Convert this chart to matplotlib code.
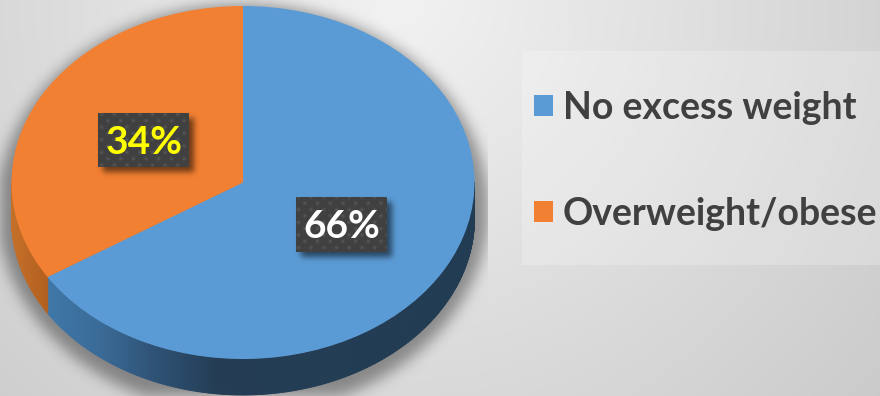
import numpy as np
import matplotlib
matplotlib.use("Agg")
import matplotlib.pyplot as plt
from matplotlib.collections import PolyCollection
from matplotlib.patches import Rectangle
from matplotlib.colors import to_rgb

categories = ["No excess weight", "Overweight/obese"]
shares = [66, 34]
slice_colors = ["#5b9bd5", "#f28032"]
label_colors = ["#ffffff", "#ffff00"]

W, H = 880, 396
CX, CY, RX, RY, DEPTH = 243.0, 182.5, 231.5, 176.5, 36.0
FONT = ["Lato", "DejaVu Sans"]
INK = "#404040"

yy, xx = np.mgrid[0:H, 0:W] + 0.5


def blur(mask, sigma):
    """Gaussian blur through the FFT, padded so nothing wraps round."""
    pad = int(4 * sigma)
    m = np.pad(mask, pad, mode="constant")
    fy = np.fft.fftfreq(m.shape[0])[:, None]
    fx = np.fft.rfftfreq(m.shape[1])[None, :]
    g = np.exp(-2 * (np.pi * sigma) ** 2 * (fx ** 2 + fy ** 2))
    out = np.fft.irfft2(np.fft.rfft2(m) * g, s=m.shape)
    return out[pad:-pad, pad:-pad]


def ramp(x, stops, colors):
    rgb = np.array([to_rgb(c) for c in colors])
    return [np.interp(x, stops, rgb[:, i]) for i in range(3)]


def layer(ax, rgba):
    ax.imshow(rgba, extent=(0, W, H, 0), interpolation="bilinear", aspect="auto", zorder=1)


fig = plt.figure(figsize=(W / 100, H / 100), dpi=100)

# Backdrop, drop shadow, legend panel and the extruded rim of the pie
back = fig.add_axes([0, 0, 1, 1])
grey = np.clip(242 - 0.063 * np.hypot(xx - 400, yy), 0, 255) / 255
back.imshow(np.dstack([grey] * 3), extent=(0, W, H, 0), aspect="auto", zorder=0, vmin=0, vmax=1)

shadow_mask = (((xx - CX) / (RX + 14)) ** 2 + ((yy - CY - DEPTH / 2 - 8) / (RY + DEPTH / 2 + 10)) ** 2 <= 1).astype(float)
shadow_alpha = blur(shadow_mask, 7) * 0.38
shadow_alpha[:, 488:] = 0
layer(back, np.dstack([np.zeros_like(xx)] * 3 + [shadow_alpha]))

back.add_patch(Rectangle((522, 51), W - 522, 214, fc="white", alpha=0.22, ec="none", zorder=2))

# Rim strips follow the slice boundaries given by the shares
boundary = 90 - 360 * shares[0] / sum(shares)
thetas = np.linspace(0, -180, 361)
polys, colors = [], []
for a, b in zip(thetas[:-1], thetas[1:]):
    ra, rb = np.radians([a, b])
    xa, xb = CX + RX * np.cos(ra), CX + RX * np.cos(rb)
    ya, yb = CY - RY * np.sin(ra), CY - RY * np.sin(rb)
    polys.append([(xa, ya), (xb, yb), (xb, yb + DEPTH), (xa, ya + DEPTH)])
    xm = (xa + xb) / 2
    if (a + b) / 2 > boundary:
        colors.append(ramp(xm, [46, 100, 150, 215, 480], ["#3f78a9", "#3a6b98", "#2f5478", "#243d55", "#213c53"]))
    else:
        colors.append(ramp(xm, [11, 46], ["#c4702a", "#b5601f"]))
back.add_collection(PolyCollection(polys, facecolors=colors, edgecolors=colors, linewidths=0.6, zorder=3))
back.set_xlim(0, W)
back.set_ylim(H, 0)
back.axis("off")

# Top face of the pie, squashed into an ellipse by the unequal axis scaling
top = fig.add_axes([0, 0, 1, 1])
top.patch.set_alpha(0)
wedges, _ = top.pie(shares, colors=slice_colors, startangle=90, counterclock=False, radius=1)
top.set_aspect("auto")
top.set_xlim(-CX / RX, (W - CX) / RX)
top.set_ylim((CY - H) / RY, CY / RY)

# Value labels and legend
over = fig.add_axes([0, 0, 1, 1])
over.patch.set_alpha(0)
over.set_xlim(0, W)
over.set_ylim(H, 0)
over.axis("off")

boxes = [(296, 197, 91, 55), (98, 113, 91, 54)]
box_mask = np.zeros((H, W))
for x, y, w, h in boxes:
    box_mask[y + 5:y + h + 5, x + 5:x + w + 5] = 1
layer(over, np.dstack([np.zeros_like(xx)] * 3 + [blur(box_mask, 3) * 0.55]))

# Dotted fill of the label boxes
u = (xx % 12.7) - 6.35
v = (yy % 12.7) - 6.35
u2 = ((xx + 6.35) % 12.7) - 6.35
v2 = ((yy + 6.35) % 12.7) - 6.35
dots = np.maximum(np.exp(-(u ** 2 + v ** 2) / 3), np.exp(-(u2 ** 2 + v2 ** 2) / 3))
dot_grey = (0x40 + 0x16 * dots) / 255
inside = np.zeros((H, W))
for x, y, w, h in boxes:
    inside[y:y + h, x:x + w] = 1
over.imshow(np.dstack([dot_grey] * 3 + [inside]), extent=(0, W, H, 0), interpolation="nearest", aspect="auto", zorder=2)

centres = [(342, 227), (144, 143)]
for (tx, ty), share, col in zip(centres, shares, label_colors):
    over.text(tx, ty, f"{share}%", color=col, fontsize=28, fontweight="bold", family=FONT,
              ha="center", va="center", zorder=3)

over.legend(wedges, categories, loc="upper left", bbox_to_anchor=(534 / W, 1 - 91 / H),
            bbox_transform=fig.transFigure, frameon=False, borderpad=0, borderaxespad=0,
            prop={"family": FONT, "weight": "bold", "size": 27},
            labelcolor=INK, handlelength=0.5, handleheight=0.5, handletextpad=0.27, labelspacing=1.92)
over.set_xlim(0, W)
over.set_ylim(H, 0)

fig.savefig("out.png", dpi=100)
